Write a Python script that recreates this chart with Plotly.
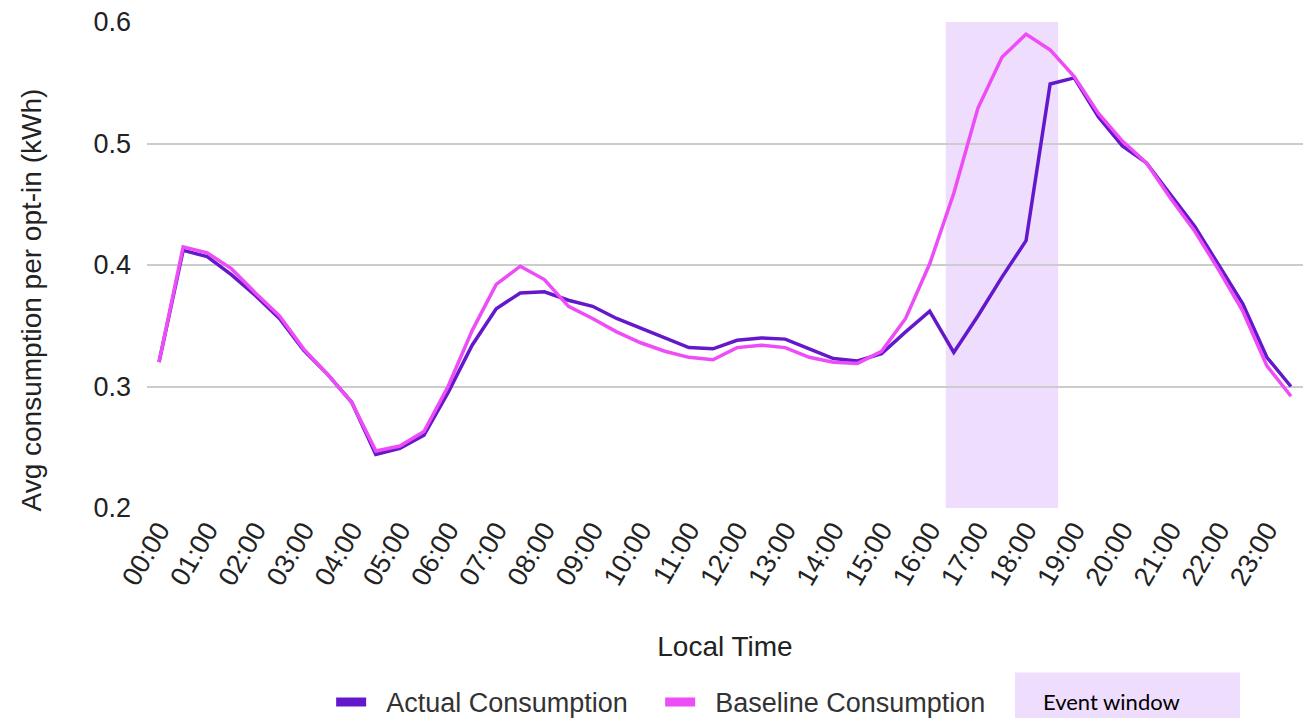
import plotly.graph_objects as go

times = [f"{h:02d}:{m:02d}" for h in range(24) for m in (0, 30)]
hour_labels = [f"{h:02d}:00" for h in range(24)]

actual = [0.320, 0.412, 0.407, 0.392, 0.375, 0.356, 0.330, 0.310, 0.287, 0.244,
          0.249, 0.260, 0.295, 0.334, 0.364, 0.377, 0.378, 0.371, 0.366, 0.356,
          0.348, 0.340, 0.332, 0.331, 0.338, 0.340, 0.339, 0.331, 0.323, 0.321,
          0.327, 0.345, 0.362, 0.328, 0.358, 0.390, 0.420, 0.549, 0.554, 0.522,
          0.498, 0.484, 0.458, 0.432, 0.400, 0.368, 0.324, 0.300]
baseline = [0.320, 0.415, 0.410, 0.397, 0.377, 0.358, 0.331, 0.310, 0.287, 0.247,
            0.251, 0.263, 0.300, 0.346, 0.384, 0.399, 0.388, 0.366, 0.356, 0.345,
            0.336, 0.329, 0.324, 0.322, 0.332, 0.334, 0.332, 0.324, 0.320, 0.319,
            0.329, 0.356, 0.401, 0.459, 0.529, 0.571, 0.590, 0.577, 0.555, 0.525,
            0.502, 0.484, 0.455, 0.428, 0.396, 0.362, 0.317, 0.292]
event_window = [32.667, 37.333]  # category index (16:20 - 18:40)

PURPLE = "#6418CC"
PINK = "#EE4CF6"
SHADE = "#EFDDFD"
FONT = "Liberation Sans, Arial, sans-serif"
TXT = "#222222"
FS_TICK = 27
FS_TITLE = 28
FS_LEG = 27
NB = "\u00a0\u00a0"

fig = go.Figure()
fig.add_trace(go.Scatter(x=times, y=actual, mode="lines", name="Actual Consumption",
                         line=dict(color=PURPLE, width=3.5), showlegend=False))
fig.add_trace(go.Scatter(x=times, y=baseline, mode="lines", name="Baseline Consumption",
                         line=dict(color=PINK, width=3.5), showlegend=False))
# legend entries
fig.add_trace(go.Scatter(x=[None], y=[None], mode="lines", name=NB + "Actual Consumption",
                         line=dict(color=PURPLE, width=9)))
fig.add_trace(go.Scatter(x=[None], y=[None], mode="lines", name=NB + "Baseline Consumption",
                         line=dict(color=PINK, width=9)))

fig.add_shape(type="rect", xref="x", yref="paper", x0=event_window[0], x1=event_window[1],
              y0=0, y1=1, fillcolor=SHADE, line=dict(width=0), layer="below")

# Event window legend box
fig.add_shape(type="rect", xref="paper", yref="paper", x0=0.7509, x1=0.9455,
              y0=-0.432, y1=-0.3385, fillcolor=SHADE, line=dict(width=0), layer="below")
fig.add_annotation(xref="paper", yref="paper", x=0.7735, y=-0.399, xanchor="left",
                   yanchor="middle", text="Event window", showarrow=False,
                   font=dict(family="Lato", size=22, color="#000000"))

# y-axis title (positioned like the source, slightly below the plot centre)
fig.add_annotation(xref="paper", yref="paper", x=-0.0995, y=0.429, xanchor="center",
                   yanchor="middle", textangle=-90, showarrow=False,
                   text="Avg consumption per opt-in (kWh)",
                   font=dict(family=FONT, size=FS_TITLE, color=TXT))

fig.update_layout(
    width=1314, height=718,
    margin=dict(l=147, r=11, t=22, b=210, autoexpand=False),
    paper_bgcolor="white", plot_bgcolor="white",
    font=dict(family=FONT, size=FS_TICK, color=TXT),
    legend=dict(orientation="h", x=0.1593, xanchor="left", y=-0.40, yanchor="middle",
                font=dict(family=FONT, size=FS_LEG, color="#333333"),
                entrywidth=284, entrywidthmode="pixels"),
)
fig.update_xaxes(type="category", categoryorder="array", categoryarray=times,
                 range=[-0.5, 47.5], tickmode="array", tickvals=hour_labels,
                 ticktext=hour_labels, tickangle=-60, showgrid=False, showline=False,
                 ticks="", tickfont=dict(size=FS_TICK, color=TXT), automargin=False,
                 title=dict(text="Local Time", standoff=46, font=dict(size=FS_TITLE, color=TXT)))
fig.update_yaxes(range=[0.2, 0.6], tickvals=[0.2, 0.3, 0.4, 0.5, 0.6],
                 ticktext=["0.2", "0.3", "0.4", "0.5", "0.6"],
                 showgrid=True, gridcolor="#CCCCCC", gridwidth=1.5, zeroline=False,
                 showline=False, ticks="", ticklabelstandoff=15, automargin=False,
                 tickfont=dict(size=FS_TICK, color=TXT))

fig.write_html("out.html", config={"displayModeBar": False},
               post_script="document.body.style.margin='0';document.body.style.overflow='hidden';")
